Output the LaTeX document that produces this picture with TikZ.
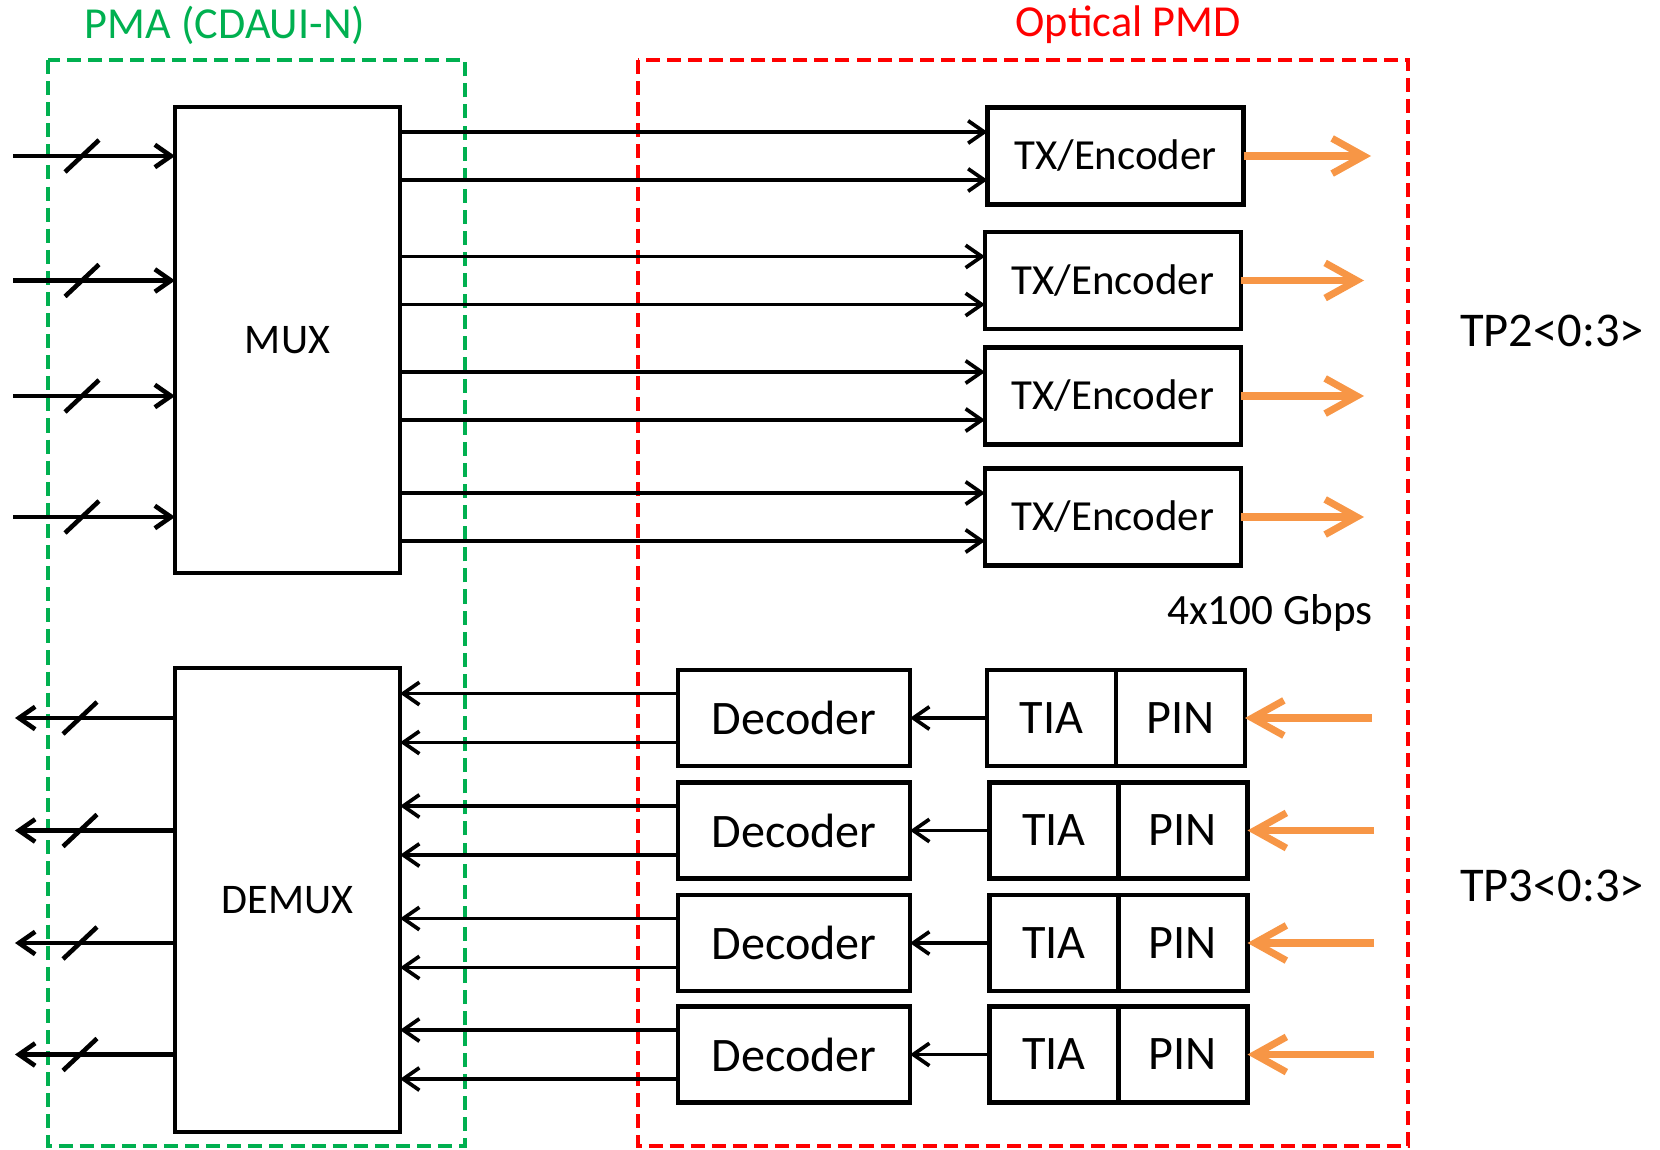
\documentclass[tikz,border=0pt]{standalone}
\usepackage{fontspec}
\setmainfont{Carlito}
\usetikzlibrary{%
  arrows.meta,%
  positioning,% wg. " of "
  calc%
}
\definecolor{pmagreen}{RGB}{0,176,80}
\definecolor{pmdred}{RGB}{255,0,0}
\definecolor{optorange}{RGB}{247,150,70}

\tikzset{
  blk/.style={draw,line width=1.3pt,outer sep=0pt,inner sep=0pt},
  txbox/.style={blk,minimum width=2.56cm,minimum height=0.97cm,
    font=\fontsize{12.2pt}{14pt}\selectfont},
  decbox/.style={blk,minimum width=2.32cm,minimum height=0.96cm,
    font=\fontsize{13.7pt}{16pt}\selectfont},
  rxbox/.style={blk,minimum width=1.29cm,minimum height=0.96cm,
    font=\fontsize{13.7pt}{16pt}\selectfont},
  muxbox/.style={blk,minimum width=2.25cm,
    font=\fontsize{12pt}{14pt}\selectfont},
  frame/.style={line width=1.4pt,dash pattern=on 4pt off 2pt},
  title/.style={font=\fontsize{12.6pt}{15pt}\selectfont},
  io/.style={line width=1.3pt},
  opt/.style={optorange,line width=2pt,-{Straight Barb[length=9pt,width=10pt]}},
}

\begin{document}
\begin{tikzpicture}[
  >={Straight Barb[length=4.6pt,width=6.4pt]},
  line width=1.05pt,
]
\useasboundingbox (0,0) rectangle (16.6,-11.49);

% dashed frames
\draw[frame,pmagreen] (0.48,-0.60) rectangle (4.65,-11.46);
\draw[frame,pmdred] (6.38,-0.60) rectangle (14.08,-11.46);
\node[title,text=pmagreen] (pma) at (2.25,-0.25) {PMA (CDAUI-N)};
\node[title,text=pmdred] (pmd) at (11.28,-0.25) {Optical PMD};

\node[muxbox,minimum height=4.66cm] (mux) at (2.875,-3.40) {MUX};
\node[muxbox,minimum height=4.64cm] (demux) at (2.875,-9.00) {DEMUX};

% transmit side
\foreach \i/\x/\y/\e in {1/11.155/1.56/13.71, 2/11.13/2.805/13.64,
                         3/11.13/3.96/13.64, 4/11.13/5.17/13.64} {
  \node[txbox] (tx\i) at (\x,-\y) {TX/Encoder};
  \coordinate (txa\i) at ($(tx\i.west)+(0,.24)$);
  \coordinate (txb\i) at ($(tx\i.west)-(0,.24)$);
  \draw[->] (mux.east |- txa\i) -- (txa\i);
  \draw[->] (mux.east |- txb\i) -- (txb\i);
  \coordinate (in\i) at (0.13,-\y);
  \draw[io,->] (in\i) -- (mux.west |- in\i);
  \draw[io] (0.82,-\y) +(-.17,-.16) -- +(.17,.16);
  \coordinate (txo\i) at (\e,-\y);
  \draw[opt] (tx\i.east) -- (txo\i);
}

% receive side
\foreach \i/\y/\t/\s in {1/7.18/10.515/13.72, 2/8.305/10.54/13.74,
                         3/9.43/10.54/13.74, 4/10.545/10.54/13.74} {
  \node[decbox] (dec\i) at (7.94,-\y) {Decoder};
  \node[rxbox] (tia\i) at (\t,-\y) {TIA};
  \node[rxbox,right=0pt of tia\i] (pin\i) {PIN};
  \draw[->] (tia\i.west) -- (dec\i.east);
  \coordinate (da\i) at ($(dec\i.west)+(0,.245)$);
  \coordinate (db\i) at ($(dec\i.west)-(0,.245)$);
  \draw[->] (da\i) -- (demux.east |- da\i);
  \draw[->] (db\i) -- (demux.east |- db\i);
  \coordinate (out\i) at (0.15,-\y);
  \draw[io,->] (demux.west |- out\i) -- (out\i);
  \draw[io] (0.80,-\y) +(-.17,-.16) -- +(.17,.16);
  \coordinate (rxo\i) at (\s,-\y);
  \draw[opt] (rxo\i) -- (pin\i.east);
}

\node[font=\fontsize{12.3pt}{15pt}\selectfont] (rate) at (12.70,-6.13) {4x100 Gbps};
\node[font=\fontsize{13.8pt}{16pt}\selectfont] (tp2) at (15.52,-3.31) {TP2<0:3>};
\node[font=\fontsize{13.8pt}{16pt}\selectfont] (tp3) at (15.52,-8.86) {TP3<0:3>};

\end{tikzpicture}
\end{document}
